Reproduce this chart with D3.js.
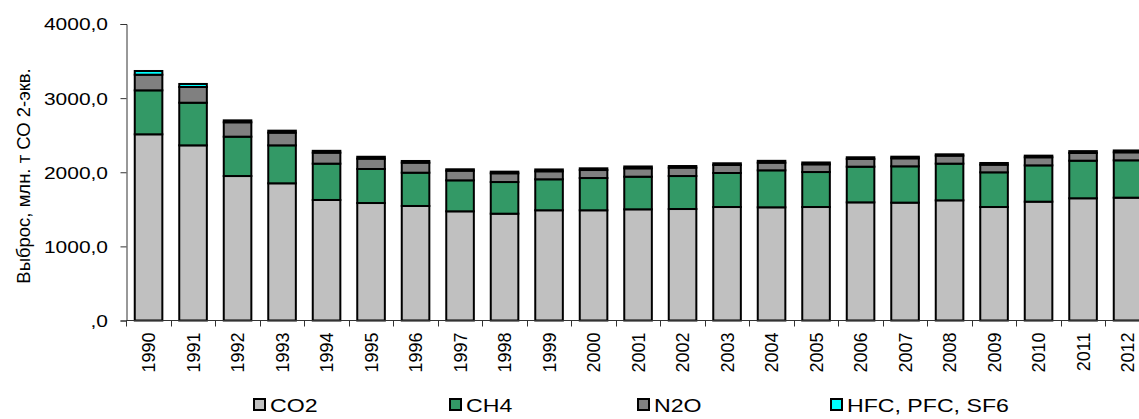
<!DOCTYPE html>
<html lang="ru">
  <head>
    <meta charset="UTF-8" />
    <title>Выброс парниковых газов</title>
    <script src="https://cdn.jsdelivr.net/npm/d3@7"></script>
    <style>
      body { margin: 0; background: #fff; }
      text { font-family: "Liberation Sans", Arial, sans-serif; fill: #000; }
    </style>
  </head>
  <body>
    <div class="chart"></div>
    <script>
      "use strict";

      const years = ["1990", "1991", "1992", "1993", "1994", "1995", "1996", "1997", "1998", "1999", "2000", "2001",
        "2002", "2003", "2004", "2005", "2006", "2007", "2008", "2009", "2010", "2011", "2012"];
      const co2 = [2512, 2363, 1949, 1851, 1626, 1585, 1545, 1473, 1441, 1487, 1487, 1500,
        1504, 1531, 1527, 1531, 1594, 1590, 1621, 1531, 1603, 1649, 1657];
      const ch4 = [593, 575, 531, 512, 490, 459, 449, 418, 427, 418, 435, 440,
        445, 459, 499, 472, 481, 490, 495, 468, 490, 507, 504];
      const n2o = [211, 212, 194, 171, 148, 139, 135, 130, 118, 108, 108, 113,
        113, 108, 103, 104, 104, 108, 108, 103, 109, 104, 108];
      const hfc = [50, 41, 26, 27, 25, 26, 23, 19, 22, 25, 23, 25,
        22, 23, 25, 25, 23, 22, 18, 23, 22, 25, 25];

      const seriesNames = ["CO2", "CH4", "N2O", "HFC, PFC, SF6"];
      const seriesColors = ["#c0c0c0", "#339966", "#808080", "#00ffff"];
      const yTicks = [0, 1000, 2000, 3000, 4000];
      const yTickLabels = [",0", "1000,0", "2000,0", "3000,0", "4000,0"];
      const yTitle = "Выброс, млн. т СО 2-экв.";

      const width = 1139;
      const height = 419;

      // table for d3.stack
      const table = years.map((y, i) => ({
        year: y,
        "CO2": co2[i],
        "CH4": ch4[i],
        "N2O": n2o[i],
        "HFC, PFC, SF6": hfc[i],
      }));

      const svg = d3
        .select(".chart")
        .append("svg")
        .attr("width", width)
        .attr("height", height)
        .attr("viewBox", [0, 0, width, height]);

      const x0 = 126.3;
      const step = 44.5;
      const xScale = d3
        .scaleBand()
        .domain(years)
        .range([x0, x0 + step * years.length])
        .paddingInner(0.38)
        .paddingOuter(0.19);

      const yScale = d3.scaleLinear().domain([0, 4000]).range([320.5, 24]);

      const color = d3.scaleOrdinal().domain(seriesNames).range(seriesColors);

      const stacked = d3.stack().keys(seriesNames)(table);

      // bars
      svg
        .append("g")
        .selectAll("g")
        .data(stacked)
        .join("g")
        .attr("fill", (d) => color(d.key))
        .selectAll("rect")
        .data((d) => d)
        .join("rect")
        .attr("x", (d) => xScale(d.data.year))
        .attr("y", (d) => yScale(d[1]))
        .attr("width", xScale.bandwidth())
        .attr("height", (d) => yScale(d[0]) - yScale(d[1]))
        .attr("stroke", "#000")
        .attr("stroke-width", 2);

      // y axis
      const yAxis = d3
        .axisLeft(yScale)
        .tickValues(yTicks)
        .tickSize(6)
        .tickPadding(12)
        .tickFormat((d, i) => yTickLabels[i]);

      const gy = svg.append("g").attr("transform", "translate(126.5,0)").call(yAxis);
      gy.select(".domain").attr("stroke", "#333");
      gy.selectAll(".tick line").attr("stroke", "#333");
      gy.selectAll(".tick text")
        .attr("font-size", 16.5)
        .attr("font-family", "Liberation Sans, Arial, sans-serif")
        .attr("x", null)
        .attr("dy", "0.36em")
        .attr("transform", "translate(-18.5,0) scale(1.27,1)");

      // x axis: ticks at category borders
      const gx = svg.append("g").attr("transform", "translate(0,320.5)");
      gx.append("line")
        .attr("x1", x0)
        .attr("x2", x0 + step * years.length)
        .attr("stroke", "#333");
      gx.selectAll(".xtick")
        .data(years)
        .join("line")
        .attr("class", "xtick")
        .attr("x1", (d) => Math.round(xScale(d) - xScale.step() * 0.19) + 0.5)
        .attr("x2", (d) => Math.round(xScale(d) - xScale.step() * 0.19) + 0.5)
        .attr("y1", 0)
        .attr("y2", 6)
        .attr("stroke", "#333");
      gx.selectAll(".xlabel")
        .data(years)
        .join("text")
        .attr("class", "xlabel")
        .attr("transform", (d) => `translate(${xScale(d) + xScale.bandwidth() / 2 + 6.5},${12})rotate(-90)`)
        .attr("text-anchor", "end")
        .attr("font-size", 18)
        .text((d) => d);

      // y title
      svg
        .append("text")
        .attr("transform", "translate(30,176)rotate(-90)")
        .attr("text-anchor", "middle")
        .attr("font-size", 18.5)
        .text(yTitle);

      // legend
      const legendX = [253, 449, 637, 830];
      const legend = svg
        .append("g")
        .selectAll("g")
        .data(seriesNames)
        .join("g")
        .attr("transform", (d, i) => `translate(${legendX[i]},398)`);
      legend
        .append("rect")
        .attr("x", 1)
        .attr("y", 1)
        .attr("width", 11)
        .attr("height", 11)
        .attr("fill", (d) => color(d))
        .attr("stroke", "#000")
        .attr("stroke-width", 2);
      legend
        .append("text")
        .attr("transform", "translate(17,13.5) scale(1.25,1)")
        .attr("font-size", 18.5)
        .text((d) => d);
    </script>
  </body>
</html>
